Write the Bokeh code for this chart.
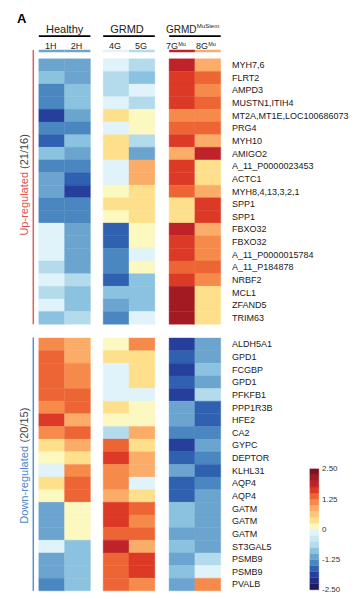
import math
from bokeh.plotting import figure
from bokeh.models import Range1d, ColumnDataSource, LinearColorMapper
from bokeh.transform import transform
from bokeh.core.properties import value
from bokeh.embed import file_html
from bokeh.resources import INLINE

# ---------------- data ----------------
group_names = ["Healthy", "GRMD", "GRMD"]
group_sups = ["", "", "MuStem"]
sample_names = ["1H", "2H", "4G", "5G", "7G", "8G"]
sample_sups = ["", "", "", "", "Mu", "Mu"]

up_genes = ["MYH7,6", "FLRT2", "AMPD3", "MUSTN1,ITIH4", "MT2A,MT1E,LOC100686073",
            "PRG4", "MYH10", "AMIGO2", "A_11_P0000023453", "ACTC1",
            "MYH8,4,13,3,2,1", "SPP1", "SPP1", "FBXO32", "FBXO32",
            "A_11_P0000015784", "A_11_P184878", "NRBF2", "MCL1", "ZFAND5", "TRIM63"]
down_genes = ["ALDH5A1", "GPD1", "FCGBP", "GPD1", "PFKFB1", "PPP1R3B", "HFE2", "CA2",
              "GYPC", "DEPTOR", "KLHL31", "AQP4", "AQP4", "GATM", "GATM", "GATM",
              "ST3GAL5", "PSMB9", "PSMB9", "PVALB"]

up_1H = [-1.1, -0.9, -1.4, -1.4, -1.9, -1.4, -1.6, -0.9, -1.4, -1.1, -1.1,
         -1.4, -1.4, -0.1, -0.1, -0.1, -0.6, -0.1, -0.6, -0.1, -0.9]
up_2H = [-1.1, -1.1, -0.9, -0.9, -1.1, -1.4, -0.9, -1.1, -1.4, -1.6, -1.9,
         -1.4, -1.4, -1.1, -1.1, -1.1, -1.1, -0.6, -0.9, -0.9, -0.6]
up_4G = [-0.1, -0.6, -0.6, -0.1, 0.4, -0.1, 0.4, 0.4, -0.1, -0.1, 0.1,
         0.4, 0.1, -1.6, -1.6, -1.4, -1.4, -1.6, -0.9, -1.1, -1.4]
up_5G = [-0.6, -0.9, -0.1, -0.6, 0.1, 0.1, -0.6, -1.1, 0.9, 0.9, 0.4,
         0.4, 0.4, 0.1, 0.1, -0.1, 0.1, -0.9, -0.9, -0.9, -0.1]
up_7G = [1.9, 1.6, 1.6, 1.6, 1.1, 1.4, 1.6, 0.9, 1.6, 1.6, 1.4,
         0.4, 0.4, 1.9, 1.6, 1.6, 1.4, 1.6, 2.1, 2.1, 2.1]
up_8G = [0.9, 1.4, 1.1, 1.4, 1.1, 1.4, 0.9, 1.9, 0.4, 0.4, 0.9,
         1.6, 1.6, 0.9, 1.1, 1.1, 1.4, 1.1, 0.4, 0.4, 0.4]

down_1H = [1.1, 1.4, 1.4, 1.4, 1.4, 1.1, 1.6, 1.1, 0.4, 0.1,
           -0.1, 0.4, 0.1, -1.1, -1.1, -1.1, -0.1, -1.1, -1.1, -1.4]
down_2H = [0.9, 0.9, 1.1, 1.1, 1.4, 1.4, 0.9, 1.4, 0.9, 0.4,
           1.1, 1.4, 1.4, 0.1, 0.1, 0.1, -0.9, -0.9, -0.9, -0.9]
down_4G = [0.1, 0.4, -0.1, -0.1, -0.1, 0.4, 0.1, -0.6, 1.4, 1.6,
           1.1, 1.1, 0.9, 1.6, 1.6, 1.4, 1.9, 1.4, 1.4, 1.4]
down_5G = [1.1, 0.4, 0.4, 0.4, -0.1, 0.1, 0.1, 0.9, 0.4, 0.9,
           0.9, -0.1, 0.4, 1.4, 1.1, 1.4, 0.9, 1.6, 1.6, 1.1]
down_7G = [-1.9, -1.6, -1.9, -1.6, -1.9, -1.1, -1.1, -1.4, -1.9, -1.6,
           -1.1, -1.6, -1.6, -0.9, -0.9, -1.1, -0.9, -1.1, -0.9, -1.1]
down_8G = [-1.1, -1.1, -0.9, -1.1, -0.6, -1.6, -1.6, -1.4, -1.1, -1.4,
           -1.6, -1.4, -1.1, -1.1, -1.1, -1.1, -1.1, -0.6, -0.1, 1.1]

colorbar_ticks = [2.5, 1.25, 0.0, -1.25, -2.5]
colorbar_tick_labels = ["2.50", "1.25", "0", "-1.25", "-2.50"]
scale_low, scale_high = -2.5, 2.5

palette = ["#1d1d5c", "#222e85", "#263f9c", "#3060b0", "#4a86c0",
           "#6ba4cf", "#8ac2df", "#b3dbeb", "#cbe8f3", "#e1f3fa",
           "#fbf8c0", "#fee08c", "#fdc67a", "#fbac68", "#f58a4a",
           "#ee6535", "#dc3a26", "#c0222a", "#a31b22", "#80101f"]

# ---------------- layout ----------------
FONT = value("Liberation Sans")
ROW_H = 12.64
UP_TOP = 58.3
DOWN_TOP = 337.5
COL_W = 25.8
GROUP_X = [38.3, 102.7, 168.6]
GROUP_W = 2 * COL_W
LABEL_X = 231.5

up_cols = [up_1H, up_2H, up_4G, up_5G, up_7G, up_8G]
down_cols = [down_1H, down_2H, down_4G, down_5G, down_7G, down_8G]

def col_center(k):
    return GROUP_X[k // 2] + (k % 2) * COL_W + COL_W / 2

xs, ys, vs = [], [], []
for k in range(6):
    for i, v in enumerate(up_cols[k]):
        xs.append(col_center(k)); ys.append(UP_TOP + ROW_H * (i + 0.5)); vs.append(v)
    for i, v in enumerate(down_cols[k]):
        xs.append(col_center(k)); ys.append(DOWN_TOP + ROW_H * (i + 0.5)); vs.append(v)
src = ColumnDataSource(dict(x=xs, y=ys, v=vs))

# thin strip above the heatmap (top row peeking)
strip_src = ColumnDataSource(dict(x=[col_center(k) for k in range(6)],
                                  y=[50.5] * 6, v=[c[0] for c in up_cols]))

mapper = LinearColorMapper(palette=palette, low=scale_low, high=scale_high)

p = figure(width=363, height=599, x_range=Range1d(0, 363), y_range=Range1d(599, 0),
           x_axis_location=None, y_axis_location=None, toolbar_location=None,
           output_backend="svg", min_border=0, outline_line_color=None,
           background_fill_color="white", border_fill_color="white")
p.grid.visible = False

p.rect(x="x", y="y", width=COL_W, height=ROW_H, source=src,
       fill_color=transform("v", mapper), line_color=transform("v", mapper), line_width=0.4)
p.rect(x="x", y="y", width=COL_W, height=2.4, source=strip_src,
       fill_color=transform("v", mapper), line_color=None)

# panel letter
p.text(x=[16.5], y=[17.5], text=["A"], text_font=FONT, text_font_size="13px",
       text_font_style="bold", text_align="left", text_baseline="middle", text_color="black")

# group headers
gx = [GROUP_X[g] + GROUP_W / 2 for g in range(3)]
p.text(x=[gx[0], gx[1] - 2], y=[28.5, 28.5], text=group_names[:2], text_font=FONT,
       text_font_size="11px", text_align="center", text_baseline="middle", text_color="#222222")
p.text(x=[165.5], y=[28.5], text=[group_names[2]], text_font=FONT, text_font_size="10px",
       text_align="left", text_baseline="middle", text_color="#222222")
p.text(x=[165.5 + 30.8], y=[25.5], text=[group_sups[2]], text_font=FONT, text_font_size="6px",
       text_align="left", text_baseline="middle", text_color="#222222")
p.segment(x0=GROUP_X, x1=[g + GROUP_W for g in GROUP_X], y0=[35.6] * 3, y1=[35.6] * 3,
          line_color="black", line_width=1.6)

# sample labels
plain = [k for k in range(6) if not sample_sups[k]]
p.text(x=[col_center(k) - 1 for k in plain], y=[45.5] * len(plain),
       text=[sample_names[k] for k in plain], text_font=FONT, text_font_size="9px",
       text_align="center", text_baseline="middle", text_color="#222222")
sup = [k for k in range(6) if sample_sups[k]]
sx = [165.5, 195.5]
p.text(x=sx, y=[45.5] * len(sup), text=[sample_names[k] for k in sup], text_font=FONT,
       text_font_size="9px", text_align="left", text_baseline="middle", text_color="#222222")
p.text(x=[s + 12.2 for s in sx], y=[43.3] * len(sup), text=[sample_sups[k] for k in sup],
       text_font=FONT, text_font_size="5.5px", text_align="left", text_baseline="middle",
       text_color="#222222")

# gene labels
p.text(x=[LABEL_X] * len(up_genes), y=[UP_TOP + ROW_H * (i + 0.5) for i in range(len(up_genes))],
       text=up_genes, text_font=FONT, text_font_size="9px", text_align="left",
       text_baseline="middle", text_color="#1a1a1a")
p.text(x=[LABEL_X] * len(down_genes), y=[DOWN_TOP + ROW_H * (i + 0.5) for i in range(len(down_genes))],
       text=down_genes, text_font=FONT, text_font_size="9px", text_align="left",
       text_baseline="middle", text_color="#1a1a1a")

# side brackets and rotated labels
UP_BOTTOM = UP_TOP + ROW_H * len(up_genes)
DOWN_BOTTOM = DOWN_TOP + ROW_H * len(down_genes)
p.segment(x0=[32.8], x1=[32.8], y0=[49.5], y1=[UP_BOTTOM], line_color="#df5f5c", line_width=1.5)
p.segment(x0=[32.8], x1=[32.8], y0=[DOWN_TOP - 0.5], y1=[DOWN_BOTTOM], line_color="#5b8fd2", line_width=1.5)

p.text(x=[23], y=[171.5], text=["Up-regulated"], angle=math.pi / 2, text_font=FONT,
       text_font_size="11px", text_align="right", text_baseline="middle", text_color="#d9534f")
p.text(x=[23], y=[168.5], text=["(21/16)"], angle=math.pi / 2, text_font=FONT,
       text_font_size="11px", text_align="left", text_baseline="middle", text_color="#444444")
p.text(x=[23], y=[445.5], text=["Down-regulated"], angle=math.pi / 2, text_font=FONT,
       text_font_size="11px", text_align="right", text_baseline="middle", text_color="#4a86c8")
p.text(x=[23], y=[442.0], text=["(20/15)"], angle=math.pi / 2, text_font=FONT,
       text_font_size="11px", text_align="left", text_baseline="middle", text_color="#444444")

# colour bar
CB_X0, CB_X1 = 309.3, 318.3
CB_TOP, CB_BOTTOM = 468.3, 589.3
n = len(palette)
step = (scale_high - scale_low) / n
cb_vals = [scale_low + step * (i + 0.5) for i in range(n)]
def cb_y(v):
    return CB_BOTTOM - (v - scale_low) / (scale_high - scale_low) * (CB_BOTTOM - CB_TOP)
cb_src = ColumnDataSource(dict(x=[(CB_X0 + CB_X1) / 2] * n, y=[cb_y(v) for v in cb_vals], v=cb_vals))
p.rect(x="x", y="y", width=CB_X1 - CB_X0, height=(CB_BOTTOM - CB_TOP) / n, source=cb_src,
       fill_color=transform("v", mapper), line_color=transform("v", mapper), line_width=0.3)
p.text(x=[321.5] * len(colorbar_ticks), y=[cb_y(t) for t in colorbar_ticks],
       text=colorbar_tick_labels, text_font=FONT, text_font_size="8px", text_align="left",
       text_baseline="middle", text_color="#333333")

open("out.html", "w").write(file_html(p, INLINE))
